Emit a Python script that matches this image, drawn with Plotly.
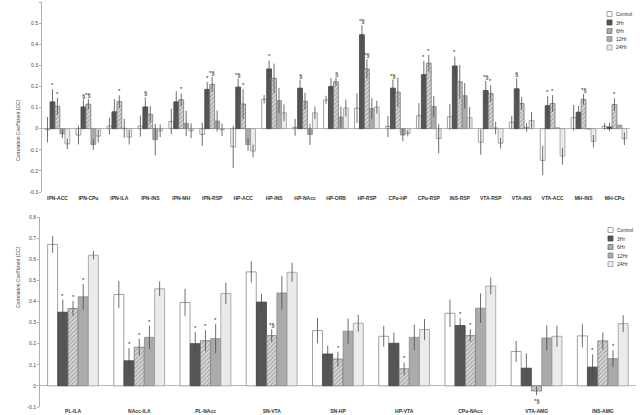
import plotly.graph_objects as go

series = ["Control", "3Hr", "6Hr", "12Hr", "24Hr"]

# ---------- top panel data ----------
top_cats = ["IPN-ACC", "IPN-CPu", "IPN-ILA", "IPN-INS", "IPN-MH", "IPN-RSP", "HP-ACC", "HP-INS",
            "HP-NAcc", "HP-ORB", "HP-RSP", "CPu-HP", "CPu-RSP", "INS-RSP", "VTA-RSP", "VTA-INS",
            "VTA-ACC", "MH-INS", "MH-CPu"]
top_control = [-0.005, -0.030, 0.012, 0.012, 0.034, -0.027, -0.086, 0.139, 0.006, 0.136, 0.097, 0.010,
               0.061, 0.056, -0.064, 0.031, -0.150, 0.052, 0.011]
top_3hr = [0.127, 0.103, 0.080, 0.103, 0.127, 0.186, 0.197, 0.283, 0.192, 0.200, 0.445, 0.192,
           0.256, 0.297, 0.181, 0.189, 0.109, 0.078, 0.008]
top_6hr = [0.106, 0.116, 0.128, 0.068, 0.137, 0.210, 0.117, 0.238, 0.130, 0.222, 0.283, 0.173,
           0.310, 0.222, 0.166, 0.119, 0.119, 0.139, 0.114]
top_12hr = [-0.025, -0.075, 0.002, -0.052, 0.025, 0.036, -0.075, 0.133, -0.027, 0.055, 0.095, -0.030,
            0.105, 0.156, 0.003, 0.006, 0.004, -0.002, 0.017]
top_24hr = [-0.072, -0.035, -0.040, -0.010, -0.010, -0.005, -0.106, 0.075, 0.075, 0.098, 0.102, -0.022,
            -0.047, 0.052, -0.069, 0.039, -0.130, -0.060, -0.048]
top_control_err = [0.060, 0.045, 0.040, 0.050, 0.060, 0.055, 0.100, 0.020, 0.040, 0.020, 0.070, 0.050,
                   0.060, 0.060, 0.060, 0.030, 0.070, 0.060, 0.015]
top_3hr_err = [0.060, 0.035, 0.060, 0.045, 0.050, 0.035, 0.040, 0.040, 0.040, 0.040, 0.045, 0.040,
               0.065, 0.045, 0.045, 0.050, 0.045, 0.030, 0.020]
top_6hr_err = [0.040, 0.025, 0.030, 0.040, 0.030, 0.035, 0.070, 0.070, 0.040, 0.020, 0.045, 0.070,
               0.040, 0.080, 0.040, 0.030, 0.040, 0.025, 0.030]
top_12hr_err = [0.020, 0.025, 0.045, 0.075, 0.060, 0.050, 0.030, 0.060, 0.050, 0.050, 0.050, 0.030,
                0.050, 0.060, 0.030, 0.020, 0.000, 0.000, 0.000]
top_24hr_err = [0.025, 0.030, 0.035, 0.030, 0.035, 0.030, 0.030, 0.040, 0.030, 0.040, 0.030, 0.015,
                0.070, 0.050, 0.025, 0.040, 0.040, 0.030, 0.030]
# significance marks: (category index, series index, text)
top_sig = [(0, 1, "*"), (0, 2, "*"), (1, 1, "§"), (1, 2, "*§"), (2, 2, "*"), (3, 1, "§"), (4, 2, "*"),
           (5, 1, "*"), (5, 2, "*§"), (6, 1, "*§"), (6, 2, "*"), (7, 1, "*"), (8, 1, "§"), (9, 2, "§"),
           (10, 1, "*§"), (10, 2, "*§"), (11, 1, "*§"), (12, 1, "*"), (12, 2, "*"), (13, 1, "*"),
           (14, 1, "*§"), (14, 2, "*"), (15, 1, "§"), (16, 1, "*"), (16, 2, "*"), (17, 2, "*§"),
           (18, 2, "*")]

# ---------- bottom panel data ----------
bot_cats = ["PL-ILA", "NAcc-ILA", "PL-NAcc", "SN-VTA", "SN-HP", "HP-VTA", "CPu-NAcc", "VTA-AMG", "INS-AMG"]
bot_control = [0.670, 0.433, 0.395, 0.540, 0.262, 0.235, 0.344, 0.163, 0.237]
bot_3hr = [0.349, 0.119, 0.200, 0.397, 0.151, 0.202, 0.286, 0.084, 0.089]
bot_6hr = [0.367, 0.183, 0.214, 0.238, 0.127, 0.081, 0.238, -0.024, 0.213]
bot_12hr = [0.422, 0.230, 0.224, 0.440, 0.259, 0.230, 0.368, 0.227, 0.129]
bot_24hr = [0.619, 0.460, 0.438, 0.538, 0.297, 0.267, 0.473, 0.235, 0.295]
bot_control_err = [0.040, 0.065, 0.065, 0.050, 0.060, 0.050, 0.065, 0.050, 0.055]
bot_3hr_err = [0.060, 0.060, 0.055, 0.040, 0.040, 0.050, 0.035, 0.070, 0.060]
bot_6hr_err = [0.035, 0.040, 0.050, 0.030, 0.035, 0.030, 0.030, 0.020, 0.040]
bot_12hr_err = [0.060, 0.055, 0.070, 0.080, 0.060, 0.060, 0.070, 0.060, 0.040]
bot_24hr_err = [0.020, 0.035, 0.050, 0.045, 0.040, 0.050, 0.040, 0.050, 0.040]
bot_sig = [(0, 1, "*"), (0, 2, "*"), (0, 3, "*"), (1, 1, "*"), (1, 2, "*"), (1, 3, "*"),
           (2, 1, "*"), (2, 2, "*"), (2, 3, "*"), (3, 2, "*§"), (4, 2, "*"), (5, 2, "*"),
           (6, 1, "*"), (6, 2, "*"), (7, 2, "*§"), (8, 1, "*"), (8, 3, "*")]

# ---------- styles ----------
fills = ["#ffffff", "#565656", "#d0d0d0", "#ababab", "#ebebeb"]
lines = ["#8a8a8a", "#444444", "#777777", "#8a8a8a", "#9a9a9a"]
patterns = ["", "", "/", "", ""]
FONT = "Liberation Sans, Arial, sans-serif"
H = 415.0
W = 640.0

fig = go.Figure()

def add_panel(cats, vals, errs, xa, ya, width_total):
    w = width_total / 5
    for i, name in enumerate(series):
        fig.add_trace(go.Bar(
            x=cats, y=vals[i], name=name, xaxis=xa, yaxis=ya,
            width=w * 0.98, offset=-width_total / 2 + i * w,
            marker=dict(color=fills[i], line=dict(color=lines[i], width=0.8),
                        pattern=dict(shape=patterns[i], fgcolor="#6a6a6a", bgcolor="#d8d8d8",
                                     size=3, solidity=0.35)),
            error_y=dict(type="data", array=errs[i], color="#4a4a4a", thickness=0.8, width=0),
            showlegend=False,
        ))

top_vals = [top_control, top_3hr, top_6hr, top_12hr, top_24hr]
top_errs = [top_control_err, top_3hr_err, top_6hr_err, top_12hr_err, top_24hr_err]
bot_vals = [bot_control, bot_3hr, bot_6hr, bot_12hr, bot_24hr]
bot_errs = [bot_control_err, bot_3hr_err, bot_6hr_err, bot_12hr_err, bot_24hr_err]

TOP_W = 0.8
BOT_W = 0.77
add_panel(top_cats, top_vals, top_errs, "x", "y", TOP_W)
add_panel(bot_cats, bot_vals, bot_errs, "x2", "y2", BOT_W)

annotations = []
shapes = []

def add_sig(sigs, vals, errs, xref, yref, width_total):
    w = width_total / 5
    for ci, si, txt in sigs:
        v = vals[si][ci]
        e = errs[si][ci]
        xpos = ci - width_total / 2 + (si + 0.5) * w
        if v >= 0:
            annotations.append(dict(x=xpos, y=v + e, xref=xref, yref=yref, text=txt, showarrow=False,
                                    yanchor="bottom", yshift=-1,
                                    font=dict(size=6, color="#222222", family=FONT)))
        else:
            annotations.append(dict(x=xpos, y=v - e, xref=xref, yref=yref, text=txt, showarrow=False,
                                    yanchor="top", yshift=-1,
                                    font=dict(size=6, color="#222222", family=FONT)))

add_sig(top_sig, top_vals, top_errs, "x", "y", TOP_W)
add_sig(bot_sig, bot_vals, bot_errs, "x2", "y2", BOT_W)

# custom compact legends
def add_legend(x0, y_rows):
    s = 5.0
    for i, name in enumerate(series):
        yc = y_rows[i]
        shapes.append(dict(type="rect", xref="paper", yref="paper",
                           x0=x0 / W, x1=(x0 + s) / W, y0=1 - (yc + s / 2) / H, y1=1 - (yc - s / 2) / H,
                           fillcolor=fills[i], line=dict(color=lines[i], width=0.8)))
        if patterns[i] == "/":
            for k in range(3):
                shapes.append(dict(type="line", xref="paper", yref="paper",
                                   x0=(x0 + k * 1.7) / W, x1=(x0 + k * 1.7 + 1.6) / W,
                                   y0=1 - (yc + s / 2) / H, y1=1 - (yc - s / 2) / H,
                                   line=dict(color="#666666", width=0.6)))
        annotations.append(dict(x=(x0 + s + 1.5) / W, y=1 - yc / H, xref="paper", yref="paper",
                                text=name, showarrow=False, xanchor="left", yanchor="middle",
                                font=dict(size=5, color="#333333", family=FONT)))

add_legend(607, [14, 22.5, 31, 39, 47.5])
add_legend(608, [230, 238.5, 247, 255.5, 264])

for ypos in [1 - 97 / H, 1 - 310 / H]:
    annotations.append(dict(x=13 / W, y=ypos, xref="paper", yref="paper", text="Correlation Coefficient (CC)",
                            textangle=-90, showarrow=False, font=dict(size=5, color="#444444", family=FONT)))

top_ticks = [-0.3, -0.2, -0.1, 0, 0.1, 0.2, 0.3, 0.4, 0.5, 0.6]
top_ticktext = ["-0.3", "-0.2", "-0.1", "0", "0.1", "0.2", "0.3", "0.4", "0.5", "0.6"]
bot_ticks = [-0.1, 0, 0.1, 0.2, 0.3, 0.4, 0.5, 0.6, 0.7, 0.8]
bot_ticktext = ["-0.1", "0", "0.1", "0.2", "0.3", "0.4", "0.5", "0.6", "0.7", "0.8"]

yax_common = dict(showgrid=False, showline=True, linecolor="#b0b0b0", linewidth=1,
                  ticks="outside", ticklen=2, tickcolor="#b0b0b0",
                  tickfont=dict(size=5, color="#444444", family=FONT),
                  zeroline=True, zerolinecolor="#b8b8b8", zerolinewidth=1, automargin=False)
xax_common = dict(showgrid=False, showline=False, ticks="", type="category",
                  tickfont=dict(size=5, color="#333333", family=FONT),
                  automargin=False)

fig.update_layout(
    width=640, height=415,
    margin=dict(l=0, r=0, t=0, b=0),
    paper_bgcolor="white", plot_bgcolor="white",
    barmode="overlay",
    showlegend=False,
    hovermode=False,
    font=dict(family=FONT),
    xaxis=dict(domain=[42 / W, 630 / W], anchor="y", range=[-0.5, len(top_cats) - 0.5],
               tickvals=top_cats, ticktext=["<b>%s</b>" % c for c in top_cats],
               ticklabelstandoff=2, **xax_common),
    yaxis=dict(domain=[(H - 192) / H, (H - 2) / H], anchor="x", range=[-0.3, 0.6],
               tickvals=top_ticks, ticktext=top_ticktext, **yax_common),
    xaxis2=dict(domain=[40 / W, 636 / W], anchor="y2", range=[-0.5, len(bot_cats) - 0.5],
                tickvals=bot_cats, ticktext=["<b>%s</b>" % c for c in bot_cats], **xax_common),
    yaxis2=dict(domain=[(H - 407) / H, (H - 217) / H], anchor="x2", range=[-0.1, 0.8],
                tickvals=bot_ticks, ticktext=bot_ticktext, **yax_common),
    annotations=annotations,
    shapes=shapes,
)

fig.write_html("out.html",
               config={"displayModeBar": False},
               post_script="document.body.style.margin='0';document.body.style.padding='0';"
                           "document.body.style.overflow='hidden';"
                           "document.documentElement.style.overflow='hidden';")
